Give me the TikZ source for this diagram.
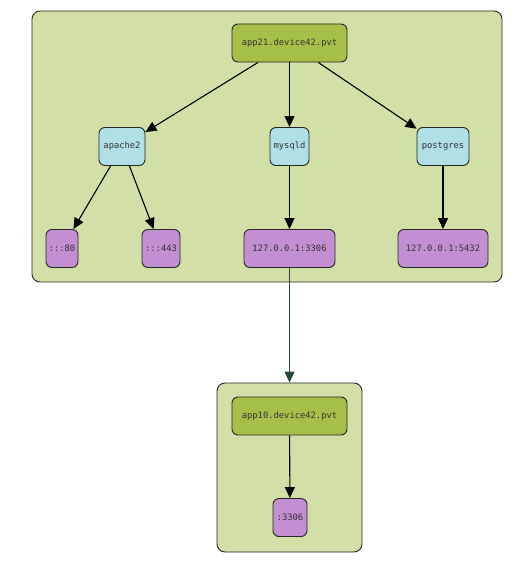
\documentclass[tikz,border=0pt]{standalone}
\usepackage{fontspec}
\setmonofont{DejaVu Sans Mono}
\usetikzlibrary{arrows.meta}

\definecolor{clusterbg}{RGB}{210,223,166}
\definecolor{hostbg}{RGB}{165,192,72}
\definecolor{procbg}{RGB}{176,224,230}
\definecolor{portbg}{RGB}{195,142,210}

\tikzset{
  cluster/.style={draw=black!85, fill=clusterbg, rounded corners=8pt, line width=0.9pt, inner sep=0pt},
  box/.style={draw=black!85, rounded corners=6pt, line width=0.9pt, inner sep=0pt,
    font=\ttfamily\fontsize{8.8}{10}\selectfont, text=black!80, minimum height=38pt},
  host/.style={box, fill=hostbg},
  proc/.style={box, fill=procbg},
  port/.style={box, fill=portbg},
  link/.style={-{Triangle[length=11pt,width=10pt]}, line width=1.1pt, black}
}

\begin{document}
\begin{tikzpicture}[x=1pt,y=-1pt]
          \useasboundingbox (0,0) rectangle (520,569);

          \node[cluster, minimum width=470pt, minimum height=271pt] (cluster21) at (267,146.5) {};
          \node[cluster, minimum width=145pt, minimum height=169pt] (cluster10) at (289.5,467.5) {};

          \node[host, minimum width=115pt] (app21) at (289.5,43) {app21.device42.pvt};
          \node[proc, minimum width=46pt] (apache) at (122,146.5) {apache2};
          \node[proc, minimum width=39pt] (mysqld) at (289.5,146.5) {mysqld};
          \node[proc, minimum width=52pt] (postgres) at (443,146.5) {postgres};

          \node[port, minimum width=32pt] (p80) at (62,248.5) {:::80};
          \node[port, minimum width=38pt] (p443) at (161,248.5) {:::443};
          \node[port, minimum width=91pt] (p3306) at (289.5,248.5) {127.0.0.1:3306};
          \node[port, minimum width=90pt] (p5432) at (443,248.5) {127.0.0.1:5432};

          \node[host, minimum width=115pt] (app10) at (289.5,416) {app10.device42.pvt};
          \node[port, minimum width=34pt] (r3306) at (290,517.5) {:3306};

          \draw[link] (app21) -- (apache);
          \draw[link] (app21) -- (mysqld);
          \draw[link] (app21) -- (postgres);
          \draw[link] (apache) -- (p80);
          \draw[link] (apache) -- (p443);
          \draw[link] (mysqld) -- (p3306);
          \draw[link] (postgres) -- (p5432);

          \draw[link, draw={rgb,255:red,40;green,70;blue,70}] (p3306) -- (cluster10);
          \draw[link] (app10) -- (r3306);

\end{tikzpicture}
\end{document}
